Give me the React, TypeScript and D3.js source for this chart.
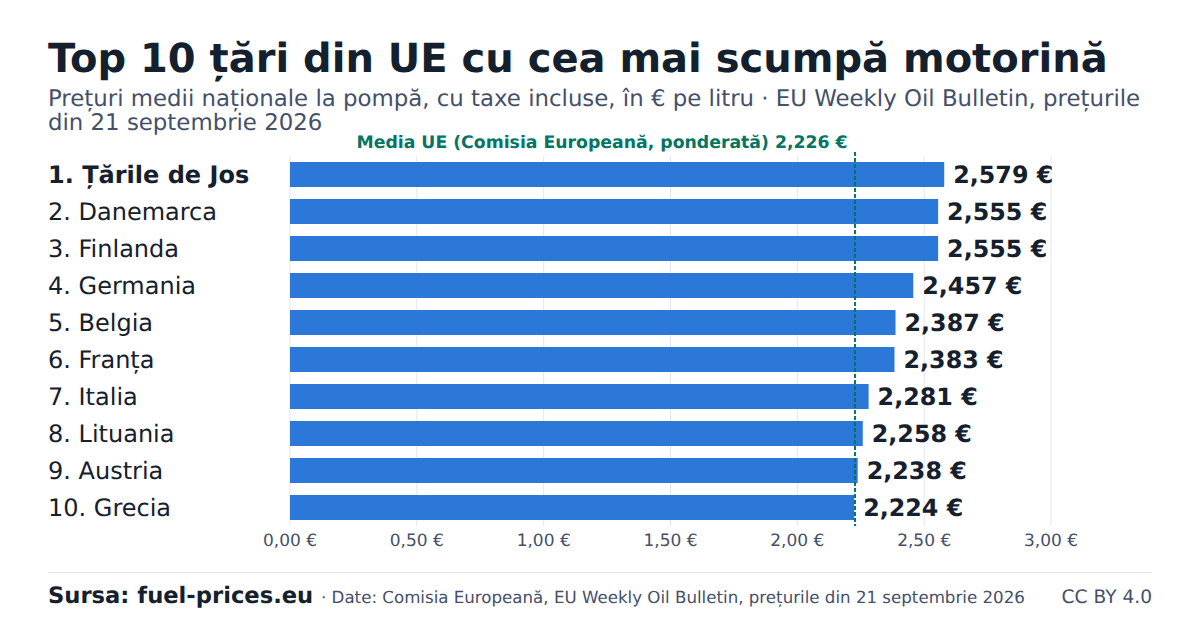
import React from "react";
import * as d3 from "d3";

const countries = ["Țările de Jos","Danemarca","Finlanda","Germania","Belgia","Franța","Italia","Lituania","Austria","Grecia"];
const prices = [2.579,2.555,2.555,2.457,2.387,2.383,2.281,2.258,2.238,2.224];
const ticks = [0,0.5,1,1.5,2,2.5,3];
const euAverage = 2.226;
const titleText = "Top 10 țări din UE cu cea mai scumpă motorină";
const subtitleLines = ["Prețuri medii naționale la pompă, cu taxe incluse, în € pe litru · EU Weekly Oil Bulletin, prețurile","din 21 septembrie 2026"];
const avgLabel = "Media UE (Comisia Europeană, ponderată) 2,226 €";
const sourceBold = "Sursa: fuel-prices.eu";
const sourceRest = "· Date: Comisia Europeană, EU Weekly Oil Bulletin, prețurile din 21 septembrie 2026";
const licence = "CC BY 4.0";

const font = "'DejaVu Sans', sans-serif";
const dark = "#15202e";
const muted = "#44506a";
const green = "#047463";
const blue = "#2b78d8";
const grid = "#e2e6ee";
const fmt = (v: number, d: number) => v.toFixed(d).replace(".", ",") + " €";

export default function App() {
  const x = d3.scaleLinear().domain([0, 3]).range([290, 1051]);
  const y = d3.scaleBand<number>().domain(d3.range(countries.length)).range([156, 526]).paddingInner(12 / 37).paddingOuter(6 / 37);
  return (
    <svg width={1200} height={630} viewBox="0 0 1200 630" style={{ position: "absolute", left: 0, top: 0, background: "#fff" }} fontFamily={font} textRendering="geometricPrecision">
      <text x={48} y={71.5} fontSize={40} fontWeight={700} fill={dark}>{titleText}</text>
      {subtitleLines.map((l, i) => (
        <text key={i} x={48} y={106 + i * 24} fontSize={22.85} fill={muted}>{l}</text>
      ))}
      {ticks.map(t => (
        <g key={t}>
          <line x1={x(t)} x2={x(t)} y1={156} y2={526} stroke={grid} strokeWidth={1} />
          <text x={x(t)} y={546} textAnchor="middle" fontSize={17} fill={muted}>{fmt(t, 2)}</text>
        </g>
      ))}
      {prices.map((p, i) => (
        <g key={i}>
          <rect x={x(0)} y={y(i)} width={x(p) - x(0)} height={y.bandwidth()} fill={blue} />
          <text x={48} y={y(i)! + 21.4} fontSize={24} fontWeight={i === 0 ? 700 : 400} fill={dark}>{`${i + 1}. ${countries[i]}`}</text>
          <text x={x(p) + 9} y={y(i)! + 21.2} fontSize={23.8} fontWeight={700} fill={dark}>{fmt(p, 3)}</text>
        </g>
      ))}
      <line x1={x(euAverage) + 0.3} x2={x(euAverage) + 0.3} y1={152} y2={526} stroke={green} strokeWidth={2} strokeDasharray="4 2" />
      <text x={x(euAverage) - 7} y={148} textAnchor="end" fontSize={17.3} fontWeight={700} fill={green}>{avgLabel}</text>
      <line x1={48} x2={1152} y1={572.5} y2={572.5} stroke={grid} strokeWidth={1} />
      <text x={48} y={603} fontSize={22.65} fontWeight={700} fill={dark}>{sourceBold}</text>
      <text x={321} y={603} fontSize={16.66} fill={muted}>{sourceRest}</text>
      <text x={1152} y={603} textAnchor="end" fontSize={18.6} fill={muted}>{licence}</text>
    </svg>
  );
}
